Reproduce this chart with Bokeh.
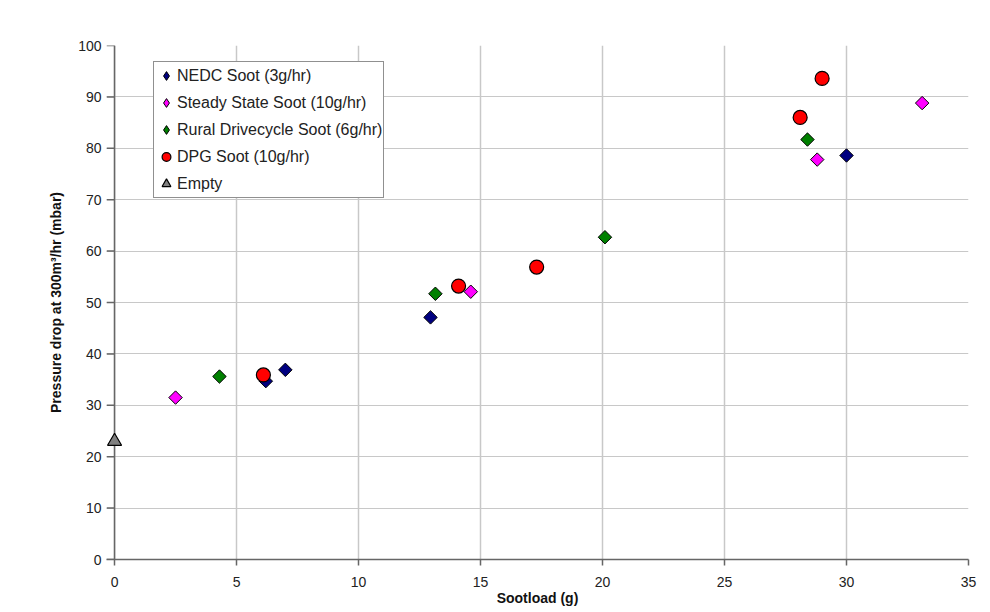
import math
from bokeh.plotting import figure
from bokeh.models import Range1d, FixedTicker, Legend, LegendItem, Span
from bokeh.embed import file_html
from bokeh.resources import INLINE

nedc_x = [6.2, 7.0, 12.95, 30.0]
nedc_y = [34.7, 36.9, 47.1, 78.6]
steady_x = [2.5, 14.6, 28.8, 33.1]
steady_y = [31.5, 52.1, 77.8, 88.8]
rural_x = [4.3, 13.15, 20.1, 28.4]
rural_y = [35.6, 51.7, 62.7, 81.7]
dpg_x = [6.1, 14.1, 17.3, 28.1, 29.0]
dpg_y = [35.9, 53.2, 56.9, 86.0, 93.6]
empty_x = [0.0]
empty_y = [23.0]

x_ticks = [0, 5, 10, 15, 20, 25, 30, 35]
y_ticks = [0, 10, 20, 30, 40, 50, 60, 70, 80, 90, 100]

FONT = "Liberation Sans"
AXIS_COLOR = "#666666"
X_PAD = 0.33  # room left of x=0 so the marker at x=0 is not clipped

p = figure(width=980, height=612, output_backend="svg", toolbar_location=None,
           x_range=Range1d(-X_PAD, 35), y_range=Range1d(0, 100),
           min_border_left=106, min_border_right=12, min_border_top=45, min_border_bottom=53)
p.outline_line_color = None
p.background_fill_color = "white"
p.border_fill_color = "white"

for ax in (p.xaxis[0], p.yaxis[0]):
    ax.axis_line_color = AXIS_COLOR
    ax.axis_line_width = 1.5
    ax.major_tick_line_color = AXIS_COLOR
    ax.major_tick_line_width = 1.5
    ax.major_tick_out = 6
    ax.major_tick_in = 0
    ax.minor_tick_line_color = None
    ax.major_label_text_font = FONT
    ax.major_label_text_font_size = "14px"
    ax.major_label_text_color = "#222222"
    ax.axis_label_text_font = FONT
    ax.axis_label_text_font_style = "bold"
    ax.axis_label_text_font_size = "14px"
    ax.axis_label_text_color = "#111111"

# y axis: labels at frame edge, line + ticks drawn at x = 0
p.yaxis.axis_line_color = None
p.yaxis.major_tick_line_color = None
p.yaxis.major_tick_out = 0
p.yaxis.major_label_standoff = 5
p.yaxis.axis_label_standoff = 11

p.xaxis.ticker = FixedTicker(ticks=x_ticks)
p.yaxis.ticker = FixedTicker(ticks=y_ticks)
p.xaxis.axis_label = "Sootload (g)"
p.yaxis.axis_label = "Pressure drop at 300m³/hr (mbar)"
p.xaxis.major_label_standoff = 11
p.xaxis.axis_label_standoff = 0

p.xgrid.ticker = FixedTicker(ticks=x_ticks)
p.ygrid.ticker = FixedTicker(ticks=y_ticks)
p.xgrid.grid_line_color = "#c8c8c8"
p.ygrid.grid_line_color = "#c8c8c8"
p.xgrid.grid_line_width = 1.5
p.ygrid.grid_line_width = 1

# y-axis tick marks and line at x = 0
p.segment(x0=[-X_PAD] * len(y_ticks), x1=[0] * len(y_ticks), y0=y_ticks, y1=y_ticks,
          line_color=AXIS_COLOR, line_width=1.5)
p.add_layout(Span(location=0, dimension="height", line_color=AXIS_COLOR, line_width=1.5, level="underlay"))

# legend proxies: small diamonds hidden beneath the rotated squares
l1 = p.scatter(nedc_x, nedc_y, marker="diamond", size=9, fill_color="#000080", line_color="black", line_width=1)
l2 = p.scatter(steady_x, steady_y, marker="diamond", size=9, fill_color="#FF00FF", line_color="black", line_width=1)
l3 = p.scatter(rural_x, rural_y, marker="diamond", size=9, fill_color="#008000", line_color="black", line_width=1)

A = math.pi / 4
r1 = p.scatter(nedc_x, nedc_y, marker="square", angle=A, size=9.5, fill_color="#000080", line_color="black", line_width=1)
r2 = p.scatter(steady_x, steady_y, marker="square", angle=A, size=9.5, fill_color="#FF00FF", line_color="black", line_width=1)
r3 = p.scatter(rural_x, rural_y, marker="square", angle=A, size=9.5, fill_color="#008000", line_color="black", line_width=1)
r4 = p.scatter(dpg_x, dpg_y, marker="circle", size=14, fill_color="#FF0000", line_color="black", line_width=1.2)
r5 = p.scatter(empty_x, empty_y, marker="triangle", size=14, fill_color="#808080", line_color="black", line_width=1.2)

legend = Legend(items=[
    LegendItem(label="NEDC Soot (3g/hr)", renderers=[l1]),
    LegendItem(label="Steady State Soot (10g/hr)", renderers=[l2]),
    LegendItem(label="Rural Drivecycle Soot (6g/hr)", renderers=[l3]),
    LegendItem(label="DPG Soot (10g/hr)", renderers=[r4]),
    LegendItem(label="Empty", renderers=[r5]),
], location=(47, 361))
legend.border_line_color = "#222222"
legend.border_line_width = 1
legend.background_fill_color = "white"
legend.background_fill_alpha = 1
legend.label_text_font = FONT
legend.label_text_font_size = "16px"
legend.label_text_color = "#222222"
legend.glyph_width = 22
legend.glyph_height = 25
legend.label_height = 25
legend.label_standoff = 0
legend.spacing = 2
legend.padding = 1
legend.margin = 0
p.add_layout(legend, "center")

open("out.html", "w").write(file_html(p, INLINE))
